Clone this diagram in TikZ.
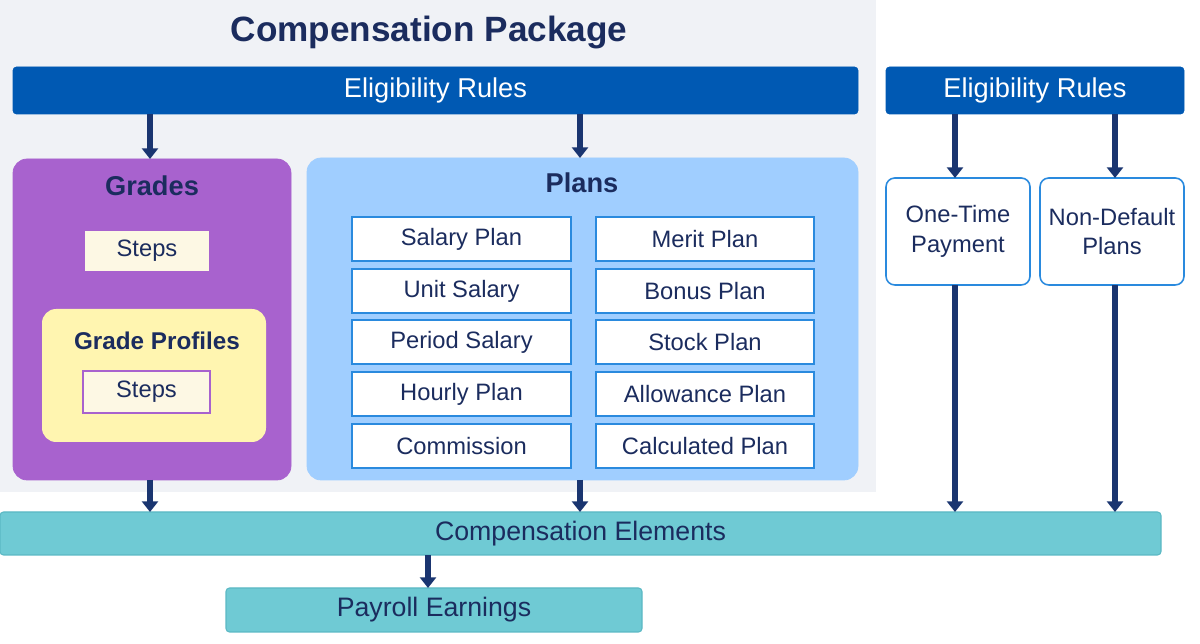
\documentclass[tikz,border=0pt]{standalone}
\usepackage{fontspec}
\setmainfont{Liberation Sans}
\usetikzlibrary{arrows.meta}
\definecolor{navy}{HTML}{1B2C5E}
\definecolor{arr}{HTML}{1A3570}
\definecolor{bluebar}{HTML}{0059B3}
\definecolor{panel}{HTML}{F0F2F6}
\definecolor{purp}{HTML}{A862CE}
\definecolor{lblue}{HTML}{A0CEFF}
\definecolor{pborder}{HTML}{2A8ADE}
\definecolor{cream}{HTML}{FDF8E4}
\definecolor{yel}{HTML}{FFF5B0}
\definecolor{teal}{HTML}{6FCAD4}
\definecolor{tealb}{HTML}{5BB8C4}
\begin{document}
\begin{tikzpicture}[x=0.02cm,y=-0.02cm,
  box/.style={draw,anchor=north west,inner sep=0,outer sep=0},
  bar/.style={box,fill=bluebar,draw=bluebar,rounded corners=2pt,text=white,font=\fontsize{15.5}{18}\selectfont},
  plan/.style={box,fill=white,draw=pborder,line width=0.8pt,minimum width=219*0.02cm,minimum height=44*0.02cm,text=navy,font=\fontsize{13.5}{16}\selectfont},
  side/.style={box,fill=white,draw=pborder,line width=0.9pt,rounded corners=5pt,minimum width=144*0.02cm,minimum height=107*0.02cm,text=navy,align=center,font=\fontsize{13.5}{17}\selectfont},
  teb/.style={box,fill=teal,draw=tealb,line width=0.6pt,rounded corners=2pt,text=navy,font=\fontsize{15.2}{18}\selectfont},
  ttl/.style={text=navy,font=\bfseries\fontsize{15.5}{18}\selectfont},
  ar/.style={draw=arr,line width=3pt,-{Triangle[length=6pt,width=9pt]}}]
\useasboundingbox (0,0) rectangle (1200,644);
\fill[panel] (0,0) rectangle (876,492);
\node[text=navy,font=\bfseries\fontsize{20}{24}\selectfont] (title) at (429,33) {Compensation Package};
\node[bar,minimum width=845*0.02cm,minimum height=47*0.02cm] (el1) at (13,67) {Eligibility Rules};
\node[bar,minimum width=298*0.02cm,minimum height=47*0.02cm] (el2) at (886,67) {Eligibility Rules};
% Grades
\node[box,fill=purp,draw=purp,rounded corners=8pt,minimum width=278*0.02cm,minimum height=321*0.02cm] (grades) at (13,159) {};
\node[ttl] (gt) at (152,186) {Grades};
\node[box,fill=cream,draw=none,minimum width=124*0.02cm,minimum height=40*0.02cm,text=navy,font=\fontsize{13.5}{16}\selectfont] (s1) at (85,231) {Steps};
\node[box,fill=yel,draw=none,rounded corners=8pt,minimum width=224*0.02cm,minimum height=133*0.02cm] (gp) at (42,309) {};
\node[ttl,font=\bfseries\fontsize{13.8}{16}\selectfont] (gpt) at (157,341) {Grade Profiles};
\node[box,fill=cream,draw=purp,line width=0.8pt,minimum width=127*0.02cm,minimum height=42*0.02cm,text=navy,font=\fontsize{13.5}{16}\selectfont] (s2) at (83,371) {Steps};
% Plans
\node[box,fill=lblue,draw=lblue,rounded corners=8pt,minimum width=551*0.02cm,minimum height=322*0.02cm] (plans) at (307,158) {};
\node[ttl] (pt) at (582,183) {Plans};
\node[plan] (p1) at (352,217) {Salary Plan};
\node[plan] (p2) at (352,269) {Unit Salary};
\node[plan] (p3) at (352,320) {Period Salary};
\node[plan] (p4) at (352,372) {Hourly Plan};
\node[plan] (p5) at (352,424) {Commission};
\node[plan,minimum width=218*0.02cm] (q1) at (596,217) {Merit Plan};
\node[plan,minimum width=218*0.02cm] (q2) at (596,269) {Bonus Plan};
\node[plan,minimum width=218*0.02cm] (q3) at (596,320) {Stock Plan};
\node[plan,minimum width=218*0.02cm] (q4) at (596,372) {Allowance Plan};
\node[plan,minimum width=218*0.02cm] (q5) at (596,424) {Calculated Plan};
% side
\node[side] (otp) at (886,178) {One-Time\\Payment};
\node[side] (ndp) at (1040,178) {Non-Default\\Plans};
% bottom
\node[teb,minimum width=1161*0.02cm,minimum height=43*0.02cm] (ce) at (0,512) {Compensation Elements};
\node[teb,minimum width=416*0.02cm,minimum height=44*0.02cm] (pe) at (226,588) {Payroll Earnings};
% coordinates and arrows
\coordinate (a1) at (150,114); \coordinate (a2) at (580,114);
\coordinate (b1) at (955,114); \coordinate (b2) at (1115,114);
\draw[ar] (a1) -- (grades.north -| a1);
\draw[ar] (a2) -- (plans.north -| a2);
\draw[ar] (b1) -- (otp.north -| b1);
\draw[ar] (b2) -- (ndp.north -| b2);
\draw[ar] (grades.south -| a1) -- (ce.north -| a1);
\draw[ar] (plans.south -| a2) -- (ce.north -| a2);
\draw[ar] (otp.south -| b1) -- (ce.north -| b1);
\draw[ar] (ndp.south -| b2) -- (ce.north -| b2);
\coordinate (c1) at (428,555);
\draw[ar] (ce.south -| c1) -- (pe.north -| c1);
\end{tikzpicture}
\end{document}
